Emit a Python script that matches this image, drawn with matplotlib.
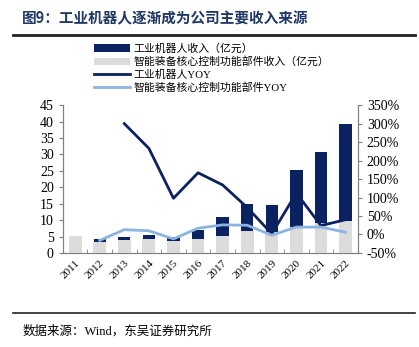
import matplotlib.pyplot as plt
import numpy as np

plt.rcParams['font.family'] = ['Liberation Serif', 'Noto Sans CJK SC']

years = ['2011', '2012', '2013', '2014', '2015', '2016', '2017', '2018', '2019', '2020', '2021', '2022']
robot_rev = [np.nan, 4.2, 4.9, 5.4, 5.0, 7.0, 11.1, 14.8, 14.5, 25.2, 30.6, 39.3]
core_rev = [5.2, 3.2, 3.9, 4.2, 3.7, 4.2, 5.2, 6.8, 6.5, 7.9, 9.0, 9.8]
robot_yoy = [np.nan, np.nan, 300, 233, 98, 167, 134, 73, 2, 112, 24, 40]
core_yoy = [np.nan, -16, 13, 10, -12, 17, 26, 25, -2, 20, 20, 6]

navy = '#0b2260'
gray = '#dcdcdc'
lblue = '#8db3e2'

fig = plt.figure(figsize=(4.19, 3.47), dpi=100)
ax = fig.add_axes([0.150, 0.271, 0.704, 0.426])
ax2 = ax.twinx()

x = np.arange(len(years))
b1 = ax.bar(x, robot_rev, width=0.5, color=navy, zorder=2, label='工业机器人收入（亿元）')
b2 = ax.bar(x, core_rev, width=0.52, color=gray, zorder=3, label='智能装备核心控制功能部件收入（亿元）')
ax.set_zorder(ax2.get_zorder() - 1)
ax.patch.set_visible(False)
ax2.patch.set_visible(False)

l1, = ax2.plot(x, robot_yoy, color=navy, lw=2, label='工业机器人YOY')
l2, = ax2.plot(x, core_yoy, color=lblue, lw=2, label='智能装备核心控制功能部件YOY')

ax.set_xlim(-0.5, len(years) - 0.5)
ax.set_ylim(0, 45)
ax.set_yticks(range(0, 46, 5))
ax2.set_ylim(-50, 350)
ax2.set_yticks(range(-50, 351, 50))
ax2.set_yticklabels([f'{v}%' for v in range(-50, 351, 50)])

ax.set_xticks(x)
ax.set_xticklabels(years, rotation=45, ha='right', rotation_mode='anchor')
ax.set_xticks(np.arange(-0.5, len(years)), minor=True)
ax.tick_params(axis='x', which='major', length=0, labelsize=8, pad=4)
ax.tick_params(axis='x', which='minor', length=3, direction='in', color='#808080')
ax.tick_params(axis='y', labelsize=10, length=3, color='#808080')
ax2.tick_params(axis='y', labelsize=10, length=3, color='#808080')

for a in (ax, ax2):
    a.spines['top'].set_visible(False)
    for s in ('left', 'right', 'bottom'):
        a.spines[s].set_color('#808080')

fig.legend(handles=[b1, b2, l1, l2], loc='upper left', bbox_to_anchor=(0.215, 0.888),
           frameon=False, fontsize=7.8, handlelength=3.3, handletextpad=0.3,
           labelspacing=0.25, borderaxespad=0)

fig.text(0.053, 0.948, '图9：工业机器人逐渐成为公司主要收入来源', fontsize=10.5,
         fontweight='bold', color='#1f3864', va='center', family=['Noto Sans CJK SC'])
fig.add_artist(plt.Line2D([0.03, 0.99], [0.898, 0.898], color='#222222', lw=2))
fig.add_artist(plt.Line2D([0.03, 0.99], [0.098, 0.098], color='#222222', lw=1.2))
fig.text(0.053, 0.046, '数据来源：Wind，东吴证券研究所', fontsize=9, va='center')

fig.savefig('out.png', dpi=100)
